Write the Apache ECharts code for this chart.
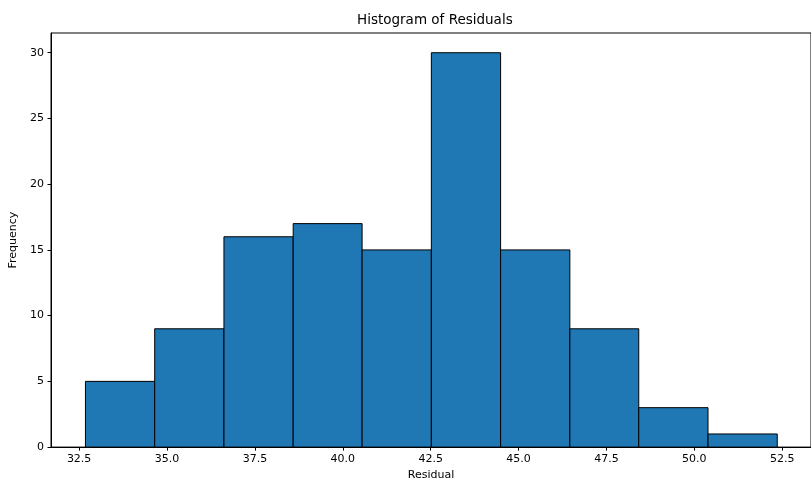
<!DOCTYPE html>
<html>
<head>
<meta charset="utf-8">
<script src="https://cdn.jsdelivr.net/npm/echarts@6/dist/echarts.min.js"></script>
<style>
  html, body { margin: 0; padding: 0; background: #fff; }
  #chart { width: 811px; height: 486px; }
</style>
</head>
<body>
<div id="chart"></div>
<script>
// Histogram bin edges and counts per bin
var binEdges = [32.68, 34.65, 36.62, 38.59, 40.55, 42.52, 44.49, 46.46, 48.42, 50.39, 52.36];
var counts = [5, 9, 16, 17, 15, 30, 15, 9, 3, 1];
var xTicks = [32.5, 35.0, 37.5, 40.0, 42.5, 45.0, 47.5, 50.0, 52.5];
var yTicks = [0, 5, 10, 15, 20, 25, 30];

var bars = counts.map(function (c, i) { return [binEdges[i], binEdges[i + 1], c]; });

var FONT = 'DejaVu Sans';
var chart = echarts.init(document.getElementById('chart'), null, { renderer: 'canvas' });
chart.setOption({
  animation: false,
  backgroundColor: '#ffffff',
  title: {
    text: 'Histogram of Residuals',
    left: 357,
    top: 13,
    padding: 0,
    textStyle: { fontFamily: FONT, fontSize: 13.5, fontWeight: 'normal', color: '#000' }
  },
  grid: {
    left: 51, top: 33, width: 767, height: 419,
    show: true, borderColor: '#000', borderWidth: 1, backgroundColor: 'transparent'
  },
  xAxis: {
    type: 'value',
    min: 31.7,
    max: 53.32,
    name: 'Residual',
    nameLocation: 'middle',
    nameGap: 22,
    nameTextStyle: { fontFamily: FONT, fontSize: 11, color: '#000' },
    axisLine: { show: true, lineStyle: { color: '#000', width: 1 } },
    axisTick: { show: true, length: 3.5, lineStyle: { color: '#000', width: 1 }, customValues: xTicks },
    axisLabel: {
      margin: 7, fontFamily: FONT, fontSize: 11, color: '#000',
      customValues: xTicks,
      formatter: function (v) { return v.toFixed(1); }
    },
    splitLine: { show: false }
  },
  yAxis: {
    type: 'value',
    min: 0,
    max: 31.5,
    name: 'Frequency',
    nameLocation: 'middle',
    nameGap: 28,
    nameRotate: 90,
    nameTextStyle: { fontFamily: FONT, fontSize: 11, color: '#000' },
    axisLine: { show: true, lineStyle: { color: '#000', width: 1 } },
    axisTick: { show: true, length: 3.5, lineStyle: { color: '#000', width: 1 }, customValues: yTicks },
    axisLabel: {
      margin: 7, fontFamily: FONT, fontSize: 11, color: '#000',
      customValues: yTicks
    },
    splitLine: { show: false }
  },
  series: [{
    type: 'custom',
    data: bars,
    encode: { x: [0, 1], y: 2 },
    renderItem: function (params, api) {
      var p0 = api.coord([api.value(0), api.value(2)]);
      var p1 = api.coord([api.value(1), 0]);
      return {
        type: 'rect',
        shape: { x: p0[0], y: p0[1], width: p1[0] - p0[0], height: p1[1] - p0[1] },
        style: { fill: '#1f77b4', stroke: '#000', lineWidth: 1 }
      };
    }
  }]
});
</script>
</body>
</html>
